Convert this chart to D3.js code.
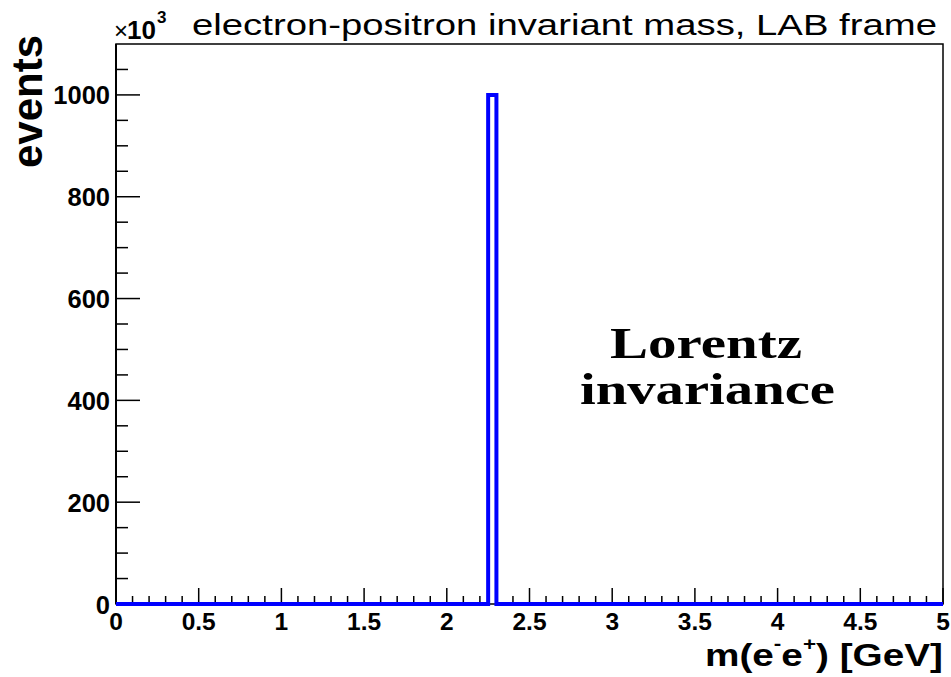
<!DOCTYPE html>
<html>
<head>
<meta charset="utf-8">
<script src="https://cdn.jsdelivr.net/npm/d3@7"></script>
<style>
html,body{margin:0;padding:0;background:#fff;}
svg{display:block;}
</style>
</head>
<body>
<svg id="c" width="951" height="677"></svg>
<script>
// ---- data (counts in units of 10^3 events) ----
const binEdges = [0, 2.25, 2.30, 5];
const binCounts = [0, 1000, 0];
const xTickValues = [0, 0.5, 1, 1.5, 2, 2.5, 3, 3.5, 4, 4.5, 5];
const xTickLabels = ["0", "0.5", "1", "1.5", "2", "2.5", "3", "3.5", "4", "4.5", "5"];
const yTickValues = [0, 200, 400, 600, 800, 1000];
const yTickLabels = ["0", "200", "400", "600", "800", "1000"];
const titleText = "electron-positron invariant mass, LAB frame";
const yTitle = "events";
const noteLines = ["Lorentz", "invariance"];

const svg = d3.select("#c");
const L = 116, R = 943, T = 44, B = 604;
const x = d3.scaleLinear().domain([0, 5]).range([L, R]);
const y = d3.scaleLinear().domain([0, 1100]).range([B, T]);
const sans = "'Liberation Sans', Arial, sans-serif";

// frame
svg.append("rect").attr("x", L).attr("y", T).attr("width", R - L).attr("height", B - T)
  .attr("fill", "none").attr("stroke", "#000").attr("stroke-width", 1.5);

// x ticks
const xMinor = d3.range(0, 51).map(i => i / 10);
svg.append("g").selectAll("line").data(xMinor).join("line")
  .attr("x1", d => x(d)).attr("x2", d => x(d))
  .attr("y1", B).attr("y2", d => B - ((Math.round(d * 10) % 5 === 0) ? 16 : 8))
  .attr("stroke", "#000").attr("stroke-width", 1.5);
// y ticks
const yMinor = d3.range(0, 22).map(i => i * 50);
svg.append("g").selectAll("line").data(yMinor).join("line")
  .attr("y1", d => y(d)).attr("y2", d => y(d))
  .attr("x1", L).attr("x2", d => L + ((d % 200 === 0) ? 24 : 12))
  .attr("stroke", "#000").attr("stroke-width", 1.5);
svg.append("line").attr("x1", L).attr("x2", L).attr("y1", T).attr("y2", B)
  .attr("stroke", "#000").attr("stroke-width", 2);

// tick labels
svg.append("g").selectAll("text").data(xTickValues).join("text")
  .attr("x", d => x(d)).attr("y", 629.5)
  .attr("text-anchor", "middle").attr("font-family", sans).attr("font-weight", "bold")
  .attr("font-size", 24.5).text((d, i) => xTickLabels[i]);
svg.append("g").selectAll("text").data(yTickValues).join("text")
  .attr("x", 110).attr("y", d => y(d) + 9.5)
  .attr("text-anchor", "end").attr("font-family", sans).attr("font-weight", "bold")
  .attr("font-size", 25.5).text((d, i) => yTickLabels[i]);

// histogram outline
const pts = [[binEdges[0], 0]];
binCounts.forEach((c, i) => { pts.push([binEdges[i], c]); pts.push([binEdges[i + 1], c]); });
pts.push([binEdges[binEdges.length - 1], 0]);
const line = d3.line().x(d => x(d[0])).y(d => y(d[1]));
svg.append("path").attr("d", line(pts)).attr("fill", "none")
  .attr("stroke", "#0000ff").attr("stroke-width", 4).attr("stroke-linejoin", "miter");

// title
svg.append("text").attr("x", 192).attr("y", 35).attr("font-family", sans)
  .attr("font-size", 30).attr("textLength", 745).attr("lengthAdjust", "spacingAndGlyphs")
  .text(titleText);
// exponent
svg.append("text").attr("x", 114).attr("y", 39).attr("font-family", sans)
  .attr("font-size", 24).text("\u00d7");
svg.append("text").attr("x", 127).attr("y", 39).attr("font-family", sans).attr("font-weight", "bold")
  .attr("font-size", 26).text("10");
svg.append("text").attr("x", 157).attr("y", 23).attr("font-family", sans).attr("font-weight", "bold")
  .attr("font-size", 17).text("3");

// y title
svg.append("text").attr("transform", "translate(42,35) rotate(-90)")
  .attr("text-anchor", "end").attr("font-family", sans).attr("font-weight", "bold")
  .attr("font-size", 42).attr("textLength", 133).attr("lengthAdjust", "spacingAndGlyphs").text(yTitle);

// x title
const xt = svg.append("text").attr("x", 705).attr("y", 666)
  .attr("font-family", sans).attr("font-weight", "bold").attr("font-size", 31)
  .attr("textLength", 238).attr("lengthAdjust", "spacingAndGlyphs");
xt.append("tspan").text("m(e");
xt.append("tspan").attr("dy", -16).attr("font-size", 18).text("-");
xt.append("tspan").attr("dy", 16).text("e");
xt.append("tspan").attr("dy", -16).attr("font-size", 18).text("+");
xt.append("tspan").attr("dy", 16).text(") [GeV]");

// annotation
const serif = "'Liberation Serif', 'DejaVu Serif', serif";
svg.append("text").attr("x", 610).attr("y", 358).attr("font-family", serif).attr("font-weight", "bold")
  .attr("font-size", 45).attr("textLength", 192).attr("lengthAdjust", "spacingAndGlyphs").text(noteLines[0]);
svg.append("text").attr("x", 580).attr("y", 404).attr("font-family", serif).attr("font-weight", "bold")
  .attr("font-size", 45).attr("textLength", 255).attr("lengthAdjust", "spacingAndGlyphs").text(noteLines[1]);
</script>
</body>
</html>
